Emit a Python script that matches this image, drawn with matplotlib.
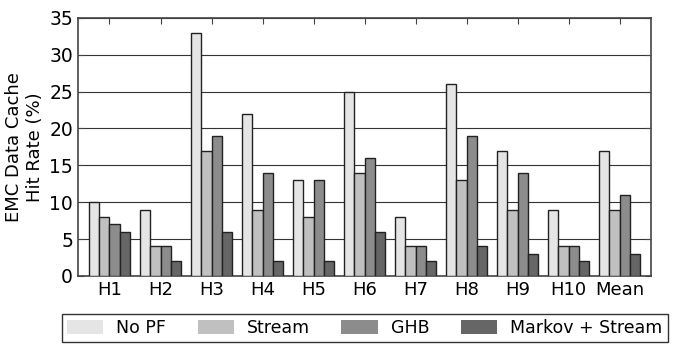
import numpy as np
import matplotlib.pyplot as plt

# hit rates
benchmarks = ['H1', 'H2', 'H3', 'H4', 'H5', 'H6', 'H7', 'H8', 'H9', 'H10', 'Mean']
no_pf = [10, 9, 33, 22, 13, 25, 8, 26, 17, 9, 17]
stream = [8, 4, 17, 9, 8, 14, 4, 13, 9, 4, 9]
ghb = [7, 4, 19, 14, 13, 16, 4, 19, 14, 4, 11]
markov_stream = [6, 2, 6, 2, 2, 6, 2, 4, 3, 2, 3]

series_names = ['No PF', 'Stream', 'GHB', 'Markov + Stream']
colors = ['#e5e5e5', '#c0c0c0', '#8c8c8c', '#666666']

fig = plt.figure(figsize=(6.77, 3.51), dpi=100)
ax = fig.add_axes([0.115, 0.214, 0.847, 0.735])

x_pos = np.arange(len(benchmarks))
w = 0.2
for i, (vals, name, c) in enumerate(zip([no_pf, stream, ghb, markov_stream], series_names, colors)):
    ax.bar(x_pos + (i - 1.5) * w, vals, w, color=c, edgecolor='#222222',
           linewidth=1.0, label=name, zorder=3)

ax.set_ylim(0, 35)
ax.set_xlim(-0.62, 10.62)
ax.set_yticks(range(0, 36, 5))
ax.set_xticks(x_pos)
ax.set_xticklabels(benchmarks, fontsize=13)
ax.tick_params(axis='y', labelsize=13.5)
ax.tick_params(direction='in', top=True, right=True, length=4, color='#444444')
ax.yaxis.grid(True, color='#333333', linewidth=0.8, zorder=0)
ax.set_axisbelow(True)
for s in ax.spines.values():
    s.set_color('#444444')
    s.set_linewidth(1.2)
ax.set_ylabel('EMC Data Cache\nHit Rate (%)', fontsize=13)

leg = ax.legend(loc='upper left', bbox_to_anchor=(-0.028, -0.147), ncol=4,
                fontsize=12.5, frameon=True, fancybox=False, edgecolor='black',
                handlelength=2.1, handleheight=0.8, handletextpad=0.75,
                columnspacing=1.8, borderpad=0.3, borderaxespad=0)
for h in leg.legend_handles:
    h.set_edgecolor('none')
leg.get_frame().set_linewidth(1.0)

plt.savefig('out.png', dpi=100)
